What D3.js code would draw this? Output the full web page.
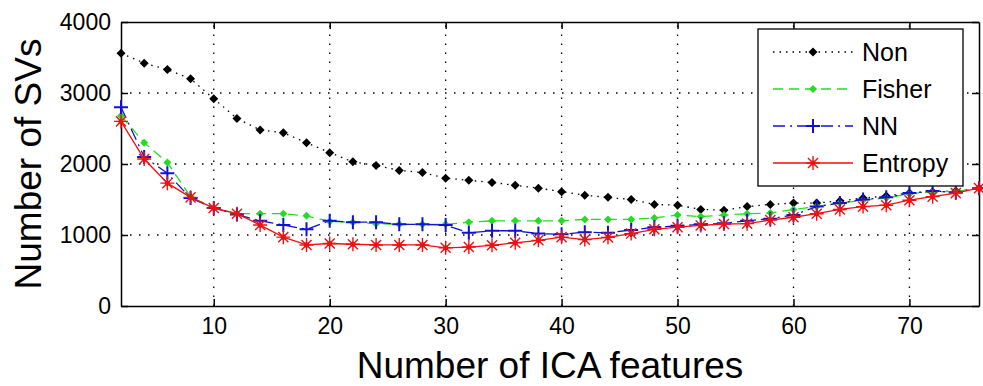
<!DOCTYPE html>
<html>
<head>
<meta charset="utf-8">
<script src="https://cdn.jsdelivr.net/npm/d3@7"></script>
<style>
  body { margin: 0; background: #fff; }
  svg { display: block; font-family: "Liberation Sans", Arial, sans-serif; }
  .axis path, .axis line { stroke: #000; stroke-width: 1.5; }
  .axis text { font-size: 23px; fill: #000; }
  .grid line { stroke: #000; stroke-width: 1.3; stroke-dasharray: 1.5,7.5; }
</style>
</head>
<body>
<div id="chart"></div>
<script>
// Number of ICA features (x)
const featureCounts = [2, 4, 6, 8, 10, 12, 14, 16, 18, 20, 22, 24, 26, 28, 30, 32, 34, 36, 38, 40,
  42, 44, 46, 48, 50, 52, 54, 56, 58, 60, 62, 64, 66, 68, 70, 72, 74, 76];

// Number of SVs per method
const nonValues = [3560, 3420, 3330, 3200, 2920, 2640, 2480, 2440, 2300, 2160, 2030, 1980, 1910, 1880, 1800, 1770, 1740, 1700, 1660, 1610,
  1560, 1530, 1500, 1430, 1420, 1360, 1350, 1400, 1430, 1450, 1450, 1480, 1520, 1550, 1590, 1610, 1620, 1660];
const fisherValues = [2680, 2300, 2020, 1540, 1380, 1300, 1300, 1300, 1270, 1190, 1180, 1160, 1150, 1150, 1150, 1180, 1200, 1200, 1200, 1200,
  1220, 1220, 1220, 1240, 1280, 1260, 1280, 1300, 1310, 1360, 1400, 1450, 1490, 1520, 1580, 1610, 1610, 1660];
const nnValues = [2800, 2100, 1870, 1520, 1380, 1290, 1200, 1140, 1080, 1200, 1180, 1180, 1150, 1150, 1140, 1030, 1060, 1060, 1020, 1010,
  1040, 1030, 1070, 1110, 1130, 1150, 1165, 1200, 1230, 1280, 1400, 1450, 1500, 1530, 1590, 1620, 1600, 1660];
const entropyValues = [2600, 2070, 1730, 1530, 1380, 1300, 1140, 970, 860, 880, 870, 860, 860, 860, 820, 830, 855, 890, 925, 970,
  935, 967, 1020, 1080, 1110, 1135, 1155, 1160, 1210, 1250, 1300, 1360, 1400, 1420, 1490, 1540, 1590, 1660];

const xTicks = [10, 20, 30, 40, 50, 60, 70];
const yTicks = [0, 1000, 2000, 3000, 4000];

const seriesNames = ["Non", "Fisher", "NN", "Entropy"];

// line/marker style per series
const styles = {
  Non:     { color: "#000000", dash: "1.5,5",       marker: "diamond", size: 4.5 },
  Fisher:  { color: "#22dd22", dash: "10,6",        marker: "diamond", size: 4 },
  NN:      { color: "#1010d8", dash: "12,5,2,5",    marker: "plus",    size: 7 },
  Entropy: { color: "#ee1111", dash: null,          marker: "star",    size: 7 }
};

const W = 983, H = 386;
const plot = { left: 121, right: 979, top: 22, bottom: 306 };

const svg = d3.select("#chart").append("svg")
  .attr("width", W).attr("height", H);

const x = d3.scaleLinear().domain([2, 76]).range([plot.left, plot.right]);
const y = d3.scaleLinear().domain([0, 4000]).range([plot.bottom, plot.top]);

// grid
const grid = svg.append("g").attr("class", "grid");
grid.selectAll(".gx").data(xTicks).join("line")
  .attr("x1", d => x(d)).attr("x2", d => x(d))
  .attr("y1", plot.bottom).attr("y2", plot.top);
grid.selectAll(".gy").data(yTicks.filter(d => d > 0 && d < 4000)).join("line")
  .attr("x1", plot.left).attr("x2", plot.right)
  .attr("y1", d => y(d)).attr("y2", d => y(d));

// axes (ticks pointing inward, box all round)
svg.append("g").attr("class", "axis")
  .attr("transform", `translate(0,${plot.bottom})`)
  .call(d3.axisBottom(x).tickValues(xTicks).tickFormat(d3.format("d"))
    .tickSizeInner(-7).tickSizeOuter(0).tickPadding(12));
svg.append("g").attr("class", "axis")
  .attr("transform", `translate(0,${plot.top})`)
  .call(d3.axisTop(x).tickValues(xTicks).tickSizeInner(-7).tickSizeOuter(0).tickFormat(""));
svg.append("g").attr("class", "axis")
  .attr("transform", `translate(${plot.left},0)`)
  .call(d3.axisLeft(y).tickValues(yTicks).tickFormat(d3.format("d"))
    .tickSizeInner(-7).tickSizeOuter(0).tickPadding(10));
svg.append("g").attr("class", "axis")
  .attr("transform", `translate(${plot.right},0)`)
  .call(d3.axisRight(y).tickValues(yTicks).tickSizeInner(-7).tickSizeOuter(0).tickFormat(""));

// axis titles
svg.append("text")
  .attr("x", (plot.left + plot.right) / 2).attr("y", 378)
  .attr("text-anchor", "middle")
  .style("font-size", "37px")
  .text("Number of ICA features");
svg.append("text")
  .attr("transform", `translate(41,${(plot.top + plot.bottom) / 2}) rotate(-90)`)
  .attr("text-anchor", "middle")
  .style("font-size", "37px")
  .text("Number of SVs");

function drawMarker(sel, type, s, color) {
  if (type === "diamond") {
    sel.append("path")
      .attr("d", `M0,${-s}L${s},0L0,${s}L${-s},0Z`)
      .attr("fill", color).attr("stroke", "none");
  } else if (type === "plus") {
    sel.append("path")
      .attr("d", `M${-s},0H${s}M0,${-s}V${s}`)
      .attr("stroke", color).attr("stroke-width", 2).attr("fill", "none");
  } else {
    const d = s * 0.72;
    sel.append("path")
      .attr("d", `M${-s},0H${s}M0,${-s}V${s}M${-d},${-d}L${d},${d}M${-d},${d}L${d},${-d}`)
      .attr("stroke", color).attr("stroke-width", 1.4).attr("fill", "none");
    sel.append("circle").attr("r", 2.6).attr("fill", color);
  }
}

const allValues = { Non: nonValues, Fisher: fisherValues, NN: nnValues, Entropy: entropyValues };
const line = d3.line().x(d => x(d[0])).y(d => y(d[1]));

seriesNames.forEach(name => {
  const st = styles[name];
  const pts = featureCounts.map((f, i) => [f, allValues[name][i]]);
  const g = svg.append("g");
  g.append("path")
    .attr("d", line(pts))
    .attr("fill", "none")
    .attr("stroke", st.color)
    .attr("stroke-width", 1.3)
    .attr("stroke-dasharray", st.dash);
  g.selectAll("g.m").data(pts).join("g")
    .attr("transform", d => `translate(${x(d[0])},${y(d[1])})`)
    .each(function() { drawMarker(d3.select(this), st.marker, st.size, st.color); });
});

// legend
const legend = svg.append("g");
legend.append("rect")
  .attr("x", 758).attr("y", 29).attr("width", 205).attr("height", 157)
  .attr("fill", "#fff").attr("stroke", "#000").attr("stroke-width", 1.3);
seriesNames.forEach((name, i) => {
  const st = styles[name];
  const ly = 52 + i * 37;
  legend.append("line")
    .attr("x1", 773).attr("x2", 853).attr("y1", ly).attr("y2", ly)
    .attr("stroke", st.color).attr("stroke-width", 1.3)
    .attr("stroke-dasharray", st.dash);
  const m = legend.append("g").attr("transform", `translate(813,${ly})`);
  drawMarker(m, st.marker, st.size, st.color);
  legend.append("text")
    .attr("x", 862).attr("y", ly).attr("dy", "0.35em")
    .style("font-size", "25px")
    .text(name);
});
</script>
</body>
</html>
